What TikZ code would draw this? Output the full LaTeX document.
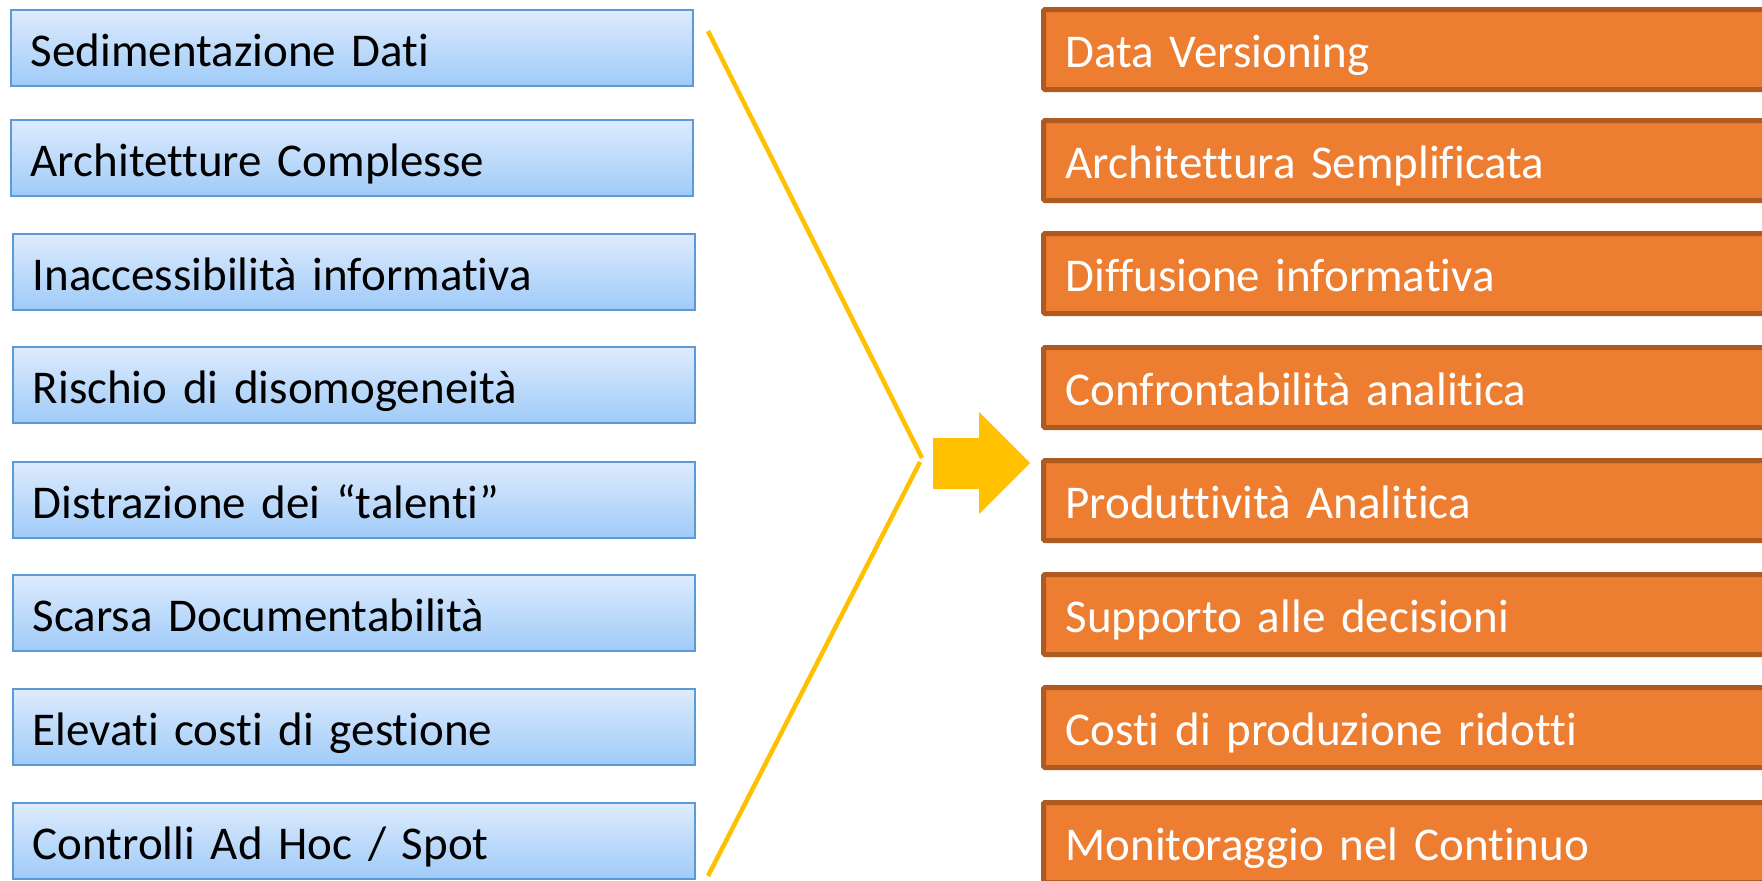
\documentclass[tikz,border=0pt]{standalone}
\usepackage{fontspec}
\setmainfont{Carlito}[Ligatures=NoCommon]
\definecolor{lblueT}{HTML}{DEEBFD}
\definecolor{lblueB}{HTML}{9FCBF8}
\definecolor{lborder}{HTML}{5B9BD5}
\definecolor{ofill}{HTML}{ED7D31}
\definecolor{oborder}{HTML}{AE5A21}
\definecolor{gold}{HTML}{FFC000}
\newcommand{\boxfont}{\fontsize{47}{52}\selectfont\spaceskip=8pt\relax}
\tikzset{
  lbox/.style={draw=lborder, line width=1.5pt, top color=lblueT, bottom color=lblueB,
    anchor=north west, inner xsep=20pt, inner ysep=0pt, text width=642pt, align=left,
    text height=48pt, text depth=11pt,
    minimum height=76pt, font=\boxfont, text=black},
  rbox/.style={draw=oborder, fill=ofill, line width=5pt, rounded corners=1.5pt,
    anchor=north west, inner xsep=22pt, inner ysep=0pt, text width=700pt, align=left,
    text height=46pt, text depth=11pt,
    minimum height=80pt, font=\boxfont, text=white},
  chev/.style={draw=gold, line width=4.5pt},
}
\begin{document}
\begin{tikzpicture}[x=1pt,y=-1pt]
\useasboundingbox (0,0) rectangle (1762,881);
\clip (0,0) rectangle (1762,881);
% left boxes
\node[lbox] (l1) at (10,9)   {Sedimentazione Dati};
\node[lbox] (l2) at (10,119) {Architetture Complesse};
\node[lbox] (l3) at (12,233) {Inaccessibilità informativa};
\node[lbox] (l4) at (12,346) {Rischio di disomogeneità};
\node[lbox] (l5) at (12,461) {Distrazione dei “talenti”};
\node[lbox] (l6) at (12,574) {Scarsa Documentabilità};
\node[lbox] (l7) at (12,688) {Elevati costi di gestione};
\node[lbox] (l8) at (12,802) {Controlli Ad Hoc / Spot};
% right boxes
\node[rbox] (r1) at (1041,7)   {Data Versioning};
\node[rbox] (r2) at (1041,118) {Architettura Semplificata};
\node[rbox] (r3) at (1041,231) {Diffusione informativa};
\node[rbox] (r4) at (1041,345) {Confrontabilità analitica};
\node[rbox] (r5) at (1041,458) {Produttività Analitica};
\node[rbox] (r6) at (1041,572) {Supporto alle decisioni};
\node[rbox] (r7) at (1041,685) {Costi di produzione ridotti};
\node[rbox] (r8) at (1041,800) {Monitoraggio nel Continuo};
% chevron
\coordinate (ct) at (708,31);
\coordinate (cv1) at (922,458);
\coordinate (cv2) at (920,462);
\coordinate (cb) at (708,876);
\draw[chev] (ct) -- (cv1);
\draw[chev] (cv2) -- (cb);
% block arrow
\fill[gold] (933,438) -- (979,438) -- (979,412) -- (1030,463) -- (979,514) -- (979,489) -- (933,489) -- cycle;
\end{tikzpicture}
\end{document}
